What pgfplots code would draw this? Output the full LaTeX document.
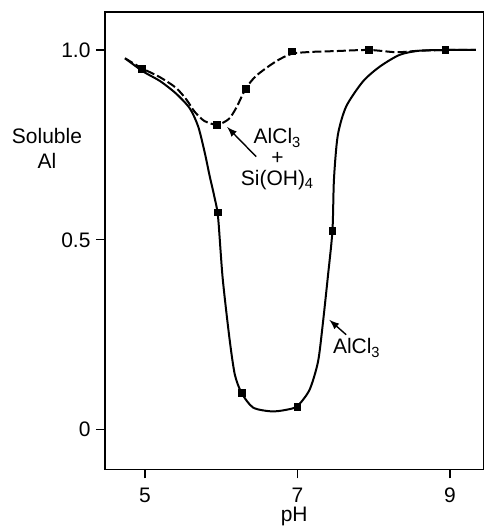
\documentclass[border=0pt]{standalone}
\usepackage{fontspec}
\setmainfont{Liberation Sans}
\usepackage{pgfplots}
\pgfplotsset{compat=1.18}
\begin{document}
\fontsize{10.5}{12.5}\selectfont
\begin{tikzpicture}
\begin{axis}[
  scale only axis,
  width=189.5pt, height=229pt,
  xmin=4.476, xmax=9.44,
  ymin=-0.105, ymax=1.1,
  xtick={5,7,9}, xticklabels={5,7,9},
  ytick={0,0.5,1.0}, yticklabels={0,0.5,1.0},
  /pgf/number format/assume math mode=true,
  tick align=outside, xtick pos=bottom, ytick pos=left,
  major tick length=4.5pt,
  tick style={line width=0.7pt, black},
  axis line style={line width=0.9pt},
  every tick label/.append style={font=\fontsize{10.5}{12.5}\selectfont},
  xticklabel style={yshift=-1pt},
  yticklabel style={xshift=1pt},
  xlabel={pH},
  xlabel style={at={(rel axis cs:0.5,0)}, anchor=base, inner sep=0pt, yshift=-25.8pt, font=\fontsize{10.5}{12.5}\selectfont},
  clip=false,
]
% dashed curve: AlCl3 + Si(OH)4
\addplot[black, line width=1pt, dash pattern=on 4.5pt off 1.6pt, smooth, tension=0.45] coordinates {
(4.74,0.978) (4.96,0.952) (5.2,0.928) (5.41,0.900) (5.55,0.868) (5.65,0.838) (5.78,0.813) (5.95,0.803) (6.10,0.818) (6.20,0.848) (6.32,0.897) (6.46,0.932) (6.72,0.970) (6.93,0.990) (7.2,0.995) (7.5,0.997) (7.94,1.0) (8.3,0.994) (8.6,0.998) (9.0,1.0) (9.34,1.0)
};
% solid curve: AlCl3
\addplot[black, line width=1pt, smooth, tension=0.45] coordinates {
(4.74,0.978) (4.98,0.943) (5.2,0.918) (5.41,0.885) (5.59,0.846) (5.70,0.798) (5.785,0.730) (5.85,0.668) (5.91,0.615) (5.96,0.560) (6.02,0.400) (6.11,0.240) (6.18,0.145) (6.27,0.096) (6.42,0.058) (6.66,0.048) (6.85,0.052) (7.0,0.062) (7.16,0.105) (7.27,0.178) (7.33,0.272) (7.40,0.403) (7.46,0.524) (7.48,0.66) (7.53,0.775) (7.64,0.851) (7.86,0.917) (8.08,0.956) (8.34,0.987) (8.6,0.998) (9.0,1.0) (9.34,1.0)
};
% data marks
\addplot[only marks, mark=square*, mark size=1.7pt, black] coordinates {
(4.96,0.950) (5.95,0.803) (6.32,0.897) (6.93,0.996) (7.94,1.0) (8.94,1.0)
(5.96,0.572) (6.27,0.096) (7.0,0.060) (7.46,0.524)
};
% annotations
\draw[-latex, line width=0.7pt] (axis cs:6.46,0.719) -- (axis cs:6.08,0.797);
\node[align=center, inner sep=0pt] at (axis cs:6.74,0.712) {AlCl\textsubscript{3}\\[-2pt]+\\[-2pt]Si(OH)\textsubscript{4}};
\draw[-latex, line width=0.7pt] (axis cs:7.64,0.250) -- (axis cs:7.42,0.289);
\node[inner sep=0pt] at (axis cs:7.78,0.215) {AlCl\textsubscript{3}};
\node[align=center, inner sep=0pt] at (axis cs:4.476,0.74) [xshift=-29pt] {Soluble\\Al};
\end{axis}
\path (current axis.south west) ++(-52.5pt,-28.3pt) (current axis.north east) ++(2pt,6pt);
\end{tikzpicture}
\end{document}
